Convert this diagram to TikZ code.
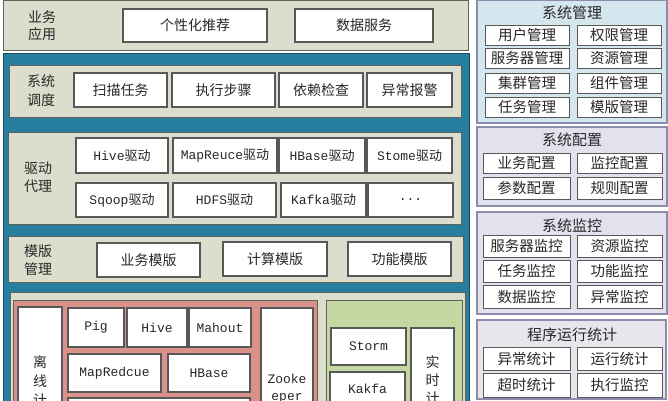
\documentclass[tikz,border=0pt]{standalone}
\usepackage{fontspec}
\setmainfont{Noto Sans CJK SC}
\newfontfamily\lat{Liberation Mono}
\definecolor{bluebg}{RGB}{40,126,158}
\definecolor{beige}{RGB}{220,222,205}
\definecolor{pinkbg}{RGB}{217,145,138}
\definecolor{greenbg}{RGB}{198,216,162}
\definecolor{rblue}{RGB}{213,231,238}
\definecolor{rlav}{RGB}{226,225,238}
\definecolor{rgray}{RGB}{230,230,236}
\definecolor{boxline}{RGB}{88,88,88}
\definecolor{panline}{RGB}{95,98,88}
\definecolor{rline}{RGB}{140,140,172}
\definecolor{txt}{RGB}{40,40,40}
\tikzset{
  bxs/.style={draw=boxline, line width=1.2pt, fill=white, inner sep=0pt, text=txt, font=\fontsize{14}{16}\selectfont},
  drv/.style={bxs, font=\fontsize{13}{15}\selectfont},
  rbx/.style={bxs, line width=1pt, font=\fontsize{14.5}{16}\selectfont},
  pan/.style={draw=panline, line width=1pt, inner sep=0pt},
  rpan/.style={draw=rline, line width=1.2pt, inner sep=0pt},
  lbl/.style={inner sep=0pt, text=txt, font=\fontsize{14}{16}\selectfont},
  rtitle/.style={inner sep=0pt, text=txt, font=\fontsize{15}{17}\selectfont},
}
\newcommand\mybox[7]{\pgfmathsetmacro\bw{#5-#3}\pgfmathsetmacro\bh{#6-#4}%
  \node[#1, minimum width=\bw pt, minimum height=\bh pt] (#2) at ({(#3+#5)/2},{(#4+#6)/2}) {#7};}
\begin{document}
\begin{tikzpicture}[x=1pt,y=-1pt]
\useasboundingbox (0,0) rectangle (668,400);
\clip (0,0) rectangle (668,400);
\fill[white] (0,0) rectangle (668,400);
% top panel
\mybox{pan,fill=beige}{p0}{3}{0.5}{468}{50}{}
\node[lbl] (l0a) at (42,17) {业务};
\node[lbl] (l0b) at (42,34) {应用};
\mybox{bxs}{b01}{123}{9}{267}{42}{个性化推荐}
\mybox{bxs}{b02}{295}{9}{433}{42}{数据服务}
% blue container
\mybox{pan,fill=bluebg,draw=bluebg!60!black}{pb}{3}{53}{469}{420}{}
% scheduling
\mybox{pan,fill=beige}{p1}{9}{65}{461}{117}{}
\node[lbl] (l1a) at (41,81) {系统};
\node[lbl] (l1b) at (41,100) {调度};
\mybox{bxs}{b11}{74}{73}{167}{107}{扫描任务}
\mybox{bxs}{b12}{172}{73}{275}{107}{执行步骤}
\mybox{bxs}{b13}{279}{73}{363}{107}{依赖检查}
\mybox{bxs}{b14}{367}{73}{452}{107}{异常报警}
% drivers
\mybox{pan,fill=beige}{p2}{8}{132}{461}{224}{}
\node[lbl] (l2a) at (38,168) {驱动};
\node[lbl] (l2b) at (38,186) {代理};
\mybox{drv}{b21}{76}{138}{168}{173}{{\lat Hive}驱动}
\mybox{drv}{b22}{173}{138}{277}{173}{{\lat MapReuce}驱动}
\mybox{drv}{b23}{279}{138}{365}{173}{{\lat HBase}驱动}
\mybox{drv}{b24}{367}{138}{452}{173}{{\lat Stome}驱动}
\mybox{drv}{b25}{76}{183}{168}{217}{{\lat Sqoop}驱动}
\mybox{drv}{b26}{173}{183}{276}{217}{{\lat HDFS}驱动}
\mybox{drv}{b27}{281}{183}{366}{217}{{\lat Kafka}驱动}
\mybox{drv}{b28}{368}{183}{453}{217}{{\lat ...}}
% templates
\mybox{pan,fill=beige}{p3}{8}{236}{463}{282}{}
\node[lbl] (l3a) at (38,251) {模版};
\node[lbl] (l3b) at (38,269) {管理};
\mybox{bxs}{b31}{97}{243}{200}{277}{业务模版}
\mybox{bxs}{b32}{223}{242}{327}{276}{计算模版}
\mybox{bxs}{b33}{348}{242}{451}{276}{功能模版}
% computing
\mybox{pan,fill=beige}{p4}{10}{292}{465}{420}{}
\mybox{pan,fill=pinkbg}{p5}{13}{300}{317}{420}{}
\mybox{bxs}{b40}{18}{307}{62}{420}{}
\node[lbl] (c1) at (40,362) {离};
\node[lbl] (c2) at (40,381) {线};
\node[lbl] (c3) at (40,400) {计};
\mybox{drv}{b41}{68}{308}{124}{347}{\lat Pig}
\mybox{drv}{b42}{127}{308}{187}{347}{\lat Hive}
\mybox{drv}{b43}{189}{308}{251}{347}{\lat Mahout}
\mybox{drv}{b44}{261}{308}{313}{420}{}
\node[drv,draw=none,fill=none] (z1) at (287,379) {\lat Zooke};
\node[drv,draw=none,fill=none] (z2) at (287,398) {\lat eper};
\mybox{drv}{b45}{68}{354}{161}{392}{\lat MapRedcue}
\mybox{drv}{b46}{168}{354}{250}{392}{\lat HBase}
\mybox{drv}{b47}{68}{398}{250}{420}{}
\mybox{pan,fill=greenbg}{p6}{326}{300}{462}{420}{}
\mybox{drv}{b51}{331}{328}{406}{365}{\lat Storm}
\mybox{drv}{b52}{330}{372}{405}{420}{}
\node[drv,draw=none,fill=none] (k1) at (367.5,389) {\lat Kakfa};
\mybox{bxs}{b53}{411}{328}{454}{420}{}
\node[lbl] (s1) at (432.5,362) {实};
\node[lbl] (s2) at (432.5,380) {时};
\node[lbl] (s3) at (432.5,398) {计};
% right: system management
\mybox{rpan,fill=rblue}{r1}{477}{0.6}{667}{123}{}
\node[rtitle] (t1) at (572,13) {系统管理};
\mybox{rbx}{r11}{485}{25}{569}{45}{用户管理}
\mybox{rbx}{r12}{577}{25}{661}{45}{权限管理}
\mybox{rbx}{r13}{485}{48}{569}{68}{服务器管理}
\mybox{rbx}{r14}{577}{48}{661}{68}{资源管理}
\mybox{rbx}{r15}{485}{73}{569}{93}{集群管理}
\mybox{rbx}{r16}{577}{73}{661}{93}{组件管理}
\mybox{rbx}{r17}{485}{97}{569}{117}{任务管理}
\mybox{rbx}{r18}{577}{97}{661}{117}{模版管理}
% system config
\mybox{rpan,fill=rlav}{r2}{477}{127}{667}{206}{}
\node[rtitle] (t2) at (572,140) {系统配置};
\mybox{rbx}{r21}{483}{153}{570}{173}{业务配置}
\mybox{rbx}{r22}{577}{153}{662}{173}{监控配置}
\mybox{rbx}{r23}{483}{177}{570}{199}{参数配置}
\mybox{rbx}{r24}{577}{177}{662}{199}{规则配置}
% system monitor
\mybox{rpan,fill=rlav}{r3}{477}{212}{667}{314}{}
\node[rtitle] (t3) at (572,226) {系统监控};
\mybox{rbx}{r31}{483}{235}{570}{257}{服务器监控}
\mybox{rbx}{r32}{577}{235}{662}{257}{资源监控}
\mybox{rbx}{r33}{483}{260}{570}{282}{任务监控}
\mybox{rbx}{r34}{577}{260}{662}{282}{功能监控}
\mybox{rbx}{r35}{483}{285}{570}{308}{数据监控}
\mybox{rbx}{r36}{577}{285}{662}{308}{异常监控}
% runtime statistics
\mybox{rpan,fill=rgray}{r4}{477}{320}{666}{399}{}
\node[rtitle] (t4) at (572,335) {程序运行统计};
\mybox{rbx}{r41}{483}{347}{570}{370}{异常统计}
\mybox{rbx}{r42}{577}{347}{662}{370}{运行统计}
\mybox{rbx}{r43}{483}{373}{570}{397}{超时统计}
\mybox{rbx}{r44}{577}{373}{662}{397}{执行监控}
\end{tikzpicture}
\end{document}
